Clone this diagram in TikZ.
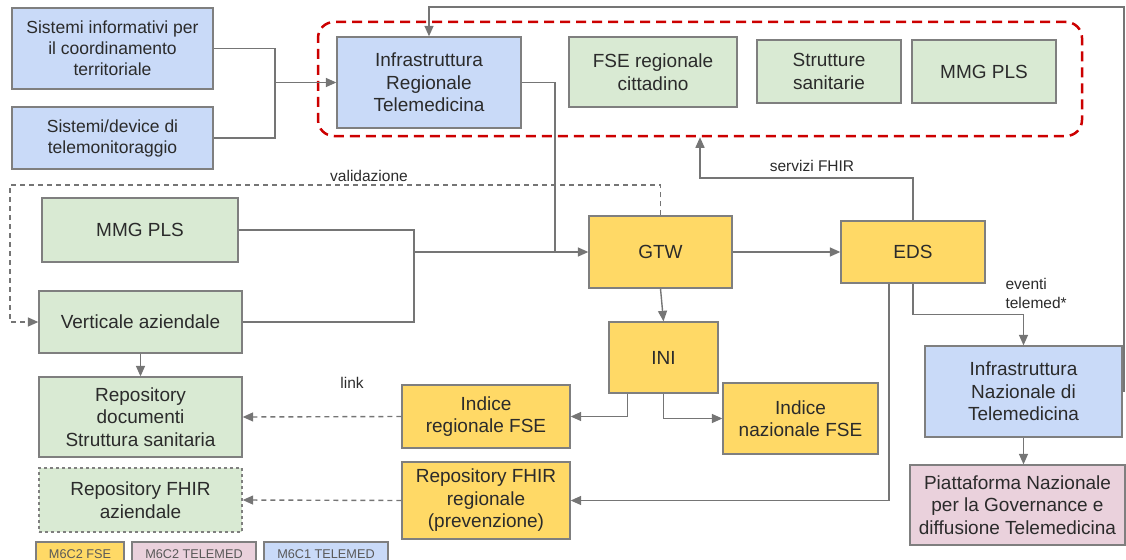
\documentclass[tikz,border=0pt]{standalone}
\usepackage{fontspec}
\setmainfont{Liberation Sans}
\usepackage{tikz}
\usetikzlibrary{positioning,shapes,arrows.meta}
\definecolor{bluefill}{HTML}{C9DAF8}
\definecolor{greenfill}{HTML}{D9EAD3}
\definecolor{yellowfill}{HTML}{FFD966}
\definecolor{pinkfill}{HTML}{EAD1DC}
\definecolor{edgegray}{HTML}{7F7F7F}
\definecolor{linegray}{HTML}{757575}
\definecolor{regred}{HTML}{CC0000}
\definecolor{textgray}{HTML}{2B2B2B}
\tikzstyle{squared} = [rectangle, draw=edgegray, line width=1.3pt, text=textgray, align=center, inner sep=2pt, font=\fontsize{19}{22.5}\selectfont]
\tikzstyle{blueb} = [squared, fill=bluefill]
\tikzstyle{greenb} = [squared, fill=greenfill]
\tikzstyle{yellowb} = [squared, fill=yellowfill]
\tikzstyle{pinkb} = [squared, fill=pinkfill]
\tikzstyle{regional} = [rectangle, rounded corners=16pt, draw=regred, line width=2.5pt, dash pattern=on 10pt off 6pt]
\tikzstyle{wire} = [line width=1.4pt, draw=linegray]
\tikzstyle{connect} = [wire, -{Triangle[length=10.5pt,width=9pt]}]
\tikzstyle{dashconnect} = [connect, dash pattern=on 5pt off 4pt]
\tikzstyle{lbl} = [text=textgray, align=left, font=\fontsize{15.5}{19}\selectfont]
\tikzstyle{legend} = [squared, text=black!65, minimum height=24pt, font=\fontsize{12.7}{14}\selectfont]

\begin{document}
\begin{tikzpicture}[x=1pt, y=-1pt]
			\useasboundingbox (0,0) rectangle (1126,559);
			\node (reg) [regional, minimum width=764pt, minimum height=114pt] at (700,79) {};
			\node (sis) [blueb, minimum width=201pt, minimum height=81pt, font=\fontsize{17.5}{21}\selectfont] at (112.5,48.5) {Sistemi informativi per\\il coordinamento\\territoriale};
			\node (dev) [blueb, minimum width=201pt, minimum height=62pt, font=\fontsize{17.5}{21}\selectfont] at (112.5,138) {Sistemi/device di\\telemonitoraggio};
			\node (irt) [blueb, minimum width=184pt, minimum height=91pt] at (429,82.5) {Infrastruttura\\Regionale\\Telemedicina};
			\node (fse) [greenb, minimum width=168pt, minimum height=70pt] at (653,72) {FSE regionale\\cittadino};
			\node (str) [greenb, minimum width=144pt, minimum height=63pt] at (829,71.5) {Strutture\\sanitarie};
			\node (mmgr) [greenb, minimum width=144pt, minimum height=63pt] at (984,71.5) {MMG PLS};
			\node (mmg) [greenb, minimum width=196pt, minimum height=64pt] at (140,230) {MMG PLS};
			\node (ver) [greenb, minimum width=203pt, minimum height=62pt] at (140.5,322) {Verticale aziendale};
			\node (rep) [greenb, minimum width=203pt, minimum height=80pt] at (140.5,417) {Repository\\documenti\\Struttura sanitaria};
			\node (rfa) [greenb, dashed, minimum width=203pt, minimum height=64pt] at (140.5,500) {Repository FHIR\\aziendale};
			\node (gtw) [yellowb, minimum width=143pt, minimum height=72pt] at (660.5,252) {GTW};
			\node (eds) [yellowb, minimum width=144pt, minimum height=62pt] at (913,252) {EDS};
			\node (ini) [yellowb, minimum width=109pt, minimum height=71pt] at (663.5,357.5) {INI};
			\node (irf) [yellowb, minimum width=168pt, minimum height=63pt] at (486,416.5) {Indice\\regionale FSE};
			\node (inn) [yellowb, minimum width=155pt, minimum height=71pt] at (800.5,418.5) {Indice\\nazionale FSE};
			\node (rfr) [yellowb, minimum width=168pt, minimum height=77pt] at (486,500.5) {Repository FHIR\\regionale\\(prevenzione)};
			\node (ina) [blueb, minimum width=197pt, minimum height=91pt] at (1023.5,391.5) {Infrastruttura\\Nazionale di\\Telemedicina};
			\node (pn) [pinkb, minimum width=215pt, minimum height=80pt] at (1017.5,505) {Piattaforma Nazionale\\per la Governance e\\diffusione Telemedicina};
			\node (lfse) [legend, fill=yellowfill, minimum width=88pt] at (80,554) {M6C2 FSE};
			\node (ltm2) [legend, fill=pinkfill, minimum width=124pt] at (194,554) {M6C2 TELEMED};
			\node (ltm1) [legend, fill=bluefill, minimum width=124pt] at (326,554) {M6C1 TELEMED};
			\node (val) [lbl] at (369,176) {validazione};
			\node (fhir) [lbl] at (812,166) {servizi FHIR};
			\node (evt) [lbl, anchor=west] at (1002,293) {eventi\\telemed*};
			\node (lnk) [lbl] at (352,383) {link};
			\coordinate (jleft) at (275,82.5);
			\coordinate (jmmg) at (414,252);
			\coordinate (jirt) at (555,252);
			\coordinate (jval) at (10,185);
			\coordinate (jfhir) at (700,178);
			\coordinate (jtop) at (1124,7);
			%-----------------------------------------------
			%-----------------------------------------------
			\draw [wire] (sis.east) -| (jleft);
			\draw [wire] (dev.east) -| (jleft);
			\draw [connect] (jleft) -- (irt.west);
			\draw [wire] (mmg.east) -| (jmmg);
			\draw [wire] (ver.east) -| (jmmg);
			\draw [connect] (jmmg) -- (gtw.west);
			\draw [wire] (irt.east) -| (jirt);
			\draw [dashconnect] (gtw.north) |- (jval) |- (ver.west);
			\draw [connect] (ver.south) -- (rep.north);
			\draw [connect] (gtw.south) -- (ini.north);
			\draw [connect] ([xshift=-36pt]ini.south) |- (irf.east);
			\draw [connect] (ini.south) |- (inn.west);
			\draw [dashconnect] (irf.west) -- (rep.east);
			\draw [dashconnect] (rfr.west) -- (rfa.east);
			\draw [connect] (gtw.east) -- (eds.west);
			\draw [connect] (eds.north) |- (jfhir) -- (jfhir |- reg.south);
			\draw [connect] (eds.south) -- ++(0,31) -| (ina.north);
			\draw [connect] ([xshift=-24pt]eds.south) |- (rfr.east);
			\draw [connect] (ina.south) -- (ina.south |- pn.north);
			\draw [connect] (ina.east) -| (jtop) -| (irt.north);
\end{tikzpicture}
\end{document}
